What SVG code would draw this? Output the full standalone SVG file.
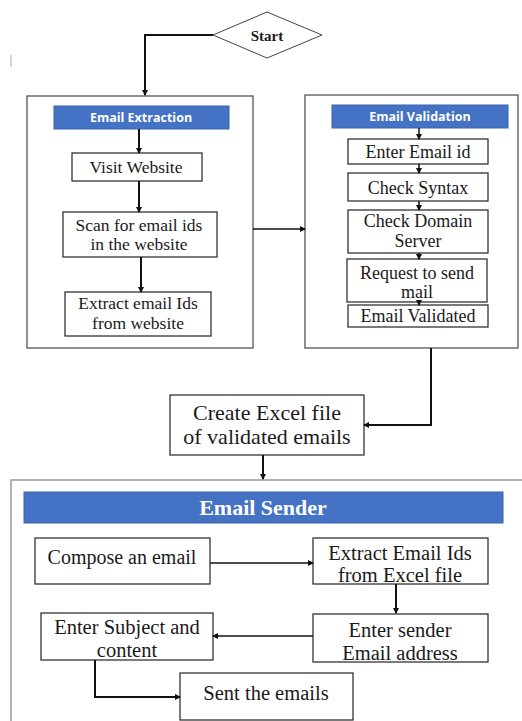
<svg xmlns="http://www.w3.org/2000/svg" width="522" height="721" viewBox="0 0 522 721">
<style>
.box{fill:#fff;stroke:#333;stroke-width:1.3}
.cont{fill:#fff;stroke:#555;stroke-width:1.3}
.cont2{fill:#fff;stroke:#999;stroke-width:1.5}
.hdr{fill:#4472C4;stroke:#3a62a8;stroke-width:1}
.t{font-family:"Liberation Serif","Times New Roman",serif;fill:#1a1a1a;text-anchor:middle}
.hs{font-family:"Open Sans","Liberation Sans",sans-serif;font-weight:bold;font-size:12.5px;fill:#fff;text-anchor:middle}
.c{fill:none;stroke:#111;stroke-width:2}
.cs{fill:none;stroke:#111;stroke-width:1.5}
</style>
<defs>
<marker id="ah" markerWidth="6" markerHeight="6" refX="5" refY="3" orient="auto" markerUnits="userSpaceOnUse">
<path d="M0,0 L6,3 L0,6 z" fill="#111"/>
</marker>
</defs>
<rect width="522" height="721" fill="#fff"/>
<line x1="11" y1="55" x2="11" y2="67" stroke="#bbb" stroke-width="1.2"/>

<g id="start">
<polygon points="213,35 267,12 322,35 267,58" fill="#fff" stroke="#444" stroke-width="1"/>
<text class="t" x="267" y="41" font-size="15" font-weight="bold">Start</text>
</g>

<g id="extraction-container"><rect class="cont" x="27" y="96" width="226" height="252"/></g>
<g id="extraction-header"><rect class="hdr" x="54" y="106" width="175" height="23"/><text class="hs" x="141" y="122">Email Extraction</text></g>
<g id="visit"><rect class="box" x="72" y="153" width="130" height="28"/><text class="t" x="136" y="173" font-size="17.5">Visit Website</text></g>
<g id="scan"><rect class="box" x="63" y="212" width="154" height="45"/><text class="t" x="139" y="231" font-size="17.5">Scan for email ids</text><text class="t" x="139" y="250" font-size="17.5">in the website</text></g>
<g id="extract"><rect class="box" x="65" y="292" width="146" height="44"/><text class="t" x="138" y="309" font-size="17.5">Extract email Ids</text><text class="t" x="138" y="329" font-size="17.5">from website</text></g>

<g id="validation-container"><rect class="cont" x="305" y="95" width="213" height="253"/></g>
<g id="validation-header"><rect class="hdr" x="332" y="105" width="176" height="23"/><text class="hs" x="420" y="121">Email Validation</text></g>
<g id="enter-id"><rect class="box" x="348" y="139" width="140" height="25"/><text class="t" x="418" y="158" font-size="18">Enter Email id</text></g>
<g id="syntax"><rect class="box" x="348" y="173" width="140" height="28"/><text class="t" x="418" y="194" font-size="18">Check Syntax</text></g>
<g id="domain"><rect class="box" x="348" y="210" width="140" height="43"/><text class="t" x="418" y="227" font-size="18">Check Domain</text><text class="t" x="418" y="247" font-size="18">Server</text></g>
<g id="request"><rect class="box" x="347" y="259" width="140" height="43"/><text class="t" x="417" y="279" font-size="18">Request to send</text><text class="t" x="417" y="298" font-size="18">mail</text></g>
<g id="validated"><rect class="box" x="348" y="305" width="140" height="22"/><text class="t" x="418" y="322" font-size="18">Email Validated</text></g>

<g id="excel"><rect class="box" x="170" y="395" width="194" height="60"/><text class="t" x="267" y="420" font-size="22">Create Excel file</text><text class="t" x="267" y="444" font-size="22">of validated emails</text></g>

<g id="sender-container"><rect class="cont2" x="11" y="480" width="520" height="250"/></g>
<g id="sender-header"><rect class="hdr" x="24" y="492" width="479" height="31"/><text class="t" x="263" y="515" font-size="22" font-weight="bold" style="fill:#fff">Email Sender</text></g>
<g id="compose"><rect class="box" x="35" y="538" width="175" height="46"/><text class="t" x="122" y="564" font-size="20">Compose an email</text></g>
<g id="extract-ids"><rect class="box" x="313" y="538" width="175" height="46"/><text class="t" x="400" y="560" font-size="20.5">Extract Email Ids</text><text class="t" x="400" y="582" font-size="20.5">from Excel file</text></g>
<g id="sender-addr"><rect class="box" x="313" y="614" width="175" height="48"/><text class="t" x="400" y="637" font-size="20.5">Enter sender</text><text class="t" x="400" y="660" font-size="20.5">Email address</text></g>
<g id="subject"><rect class="box" x="41" y="613" width="172" height="47"/><text class="t" x="127" y="634" font-size="20.5">Enter Subject and</text><text class="t" x="127" y="657" font-size="20.5">content</text></g>
<g id="sent"><rect class="box" x="180" y="673" width="173" height="47"/><text class="t" x="266" y="700" font-size="20.5">Sent the emails</text></g>

<g id="connectors">
<path class="c" d="M213,35 H145 V95" marker-end="url(#ah)"/>
<path class="c" d="M139,129 V153" marker-end="url(#ah)"/>
<path class="c" d="M139,181 V212" marker-end="url(#ah)"/>
<path class="c" d="M141,257 V292" marker-end="url(#ah)"/>
<path class="cs" d="M253,229 H305" marker-end="url(#ah)"/>
<path class="cs" d="M419,128 V139" marker-end="url(#ah)"/>
<path class="cs" d="M419,164 V173" marker-end="url(#ah)"/>
<path class="cs" d="M419,201 V210" marker-end="url(#ah)"/>
<path class="cs" d="M419,253 V259" marker-end="url(#ah)"/>
<path class="cs" d="M419,302 V305" marker-end="url(#ah)"/>
<path class="c" d="M431,348 V425 H364" marker-end="url(#ah)"/>
<path class="c" d="M263,455 V479" marker-end="url(#ah)"/>
<path class="cs" d="M210,563 H313" marker-end="url(#ah)"/>
<path class="c" d="M396,584 V613" marker-end="url(#ah)"/>
<path class="cs" d="M313,636 H213" marker-end="url(#ah)"/>
<path class="c" d="M95,660 V697 H180" marker-end="url(#ah)"/>
</g>
</svg>
